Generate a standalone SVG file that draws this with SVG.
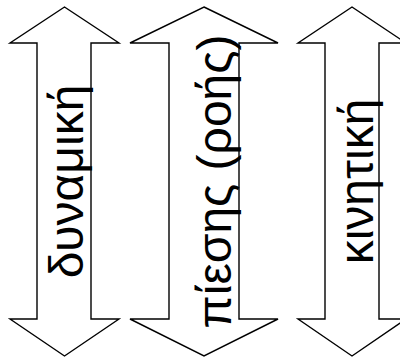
<svg xmlns="http://www.w3.org/2000/svg" width="400" height="358" viewBox="0 0 400 358">
<style>
.arr{fill:#fff;stroke:#000;stroke-width:1.4;stroke-linejoin:miter}
.lbl{font-family:"Liberation Sans",Arial,sans-serif;font-size:48px;fill:#000;text-anchor:middle}
</style>
<rect width="400" height="358" fill="#fff"/>
<g id="arrow-dynamiki">
<polygon class="arr" points="64.5,7 119,43 91,43 91,319 119,319 64.5,356 10,319 37,319 37,43 10,43"/>
<text class="lbl" transform="translate(83,181.5) rotate(-90)">δυναμική</text>
</g>
<g id="arrow-piesis">
<polygon class="arr" points="204,7 278,43 239,43 239,319 278,319 204,356 130,319 169,319 169,43 130,43"/>
<text class="lbl" transform="translate(231,181.5) rotate(-90)">πίεσης (ροής)</text>
</g>
<g id="arrow-kinitiki">
<polygon class="arr" points="352,7 406,43 379,43 379,319 406,319 352,356 298,319 325,319 325,43 298,43"/>
<text class="lbl" transform="translate(373,181.5) rotate(-90)">κινητική</text>
</g>
</svg>
